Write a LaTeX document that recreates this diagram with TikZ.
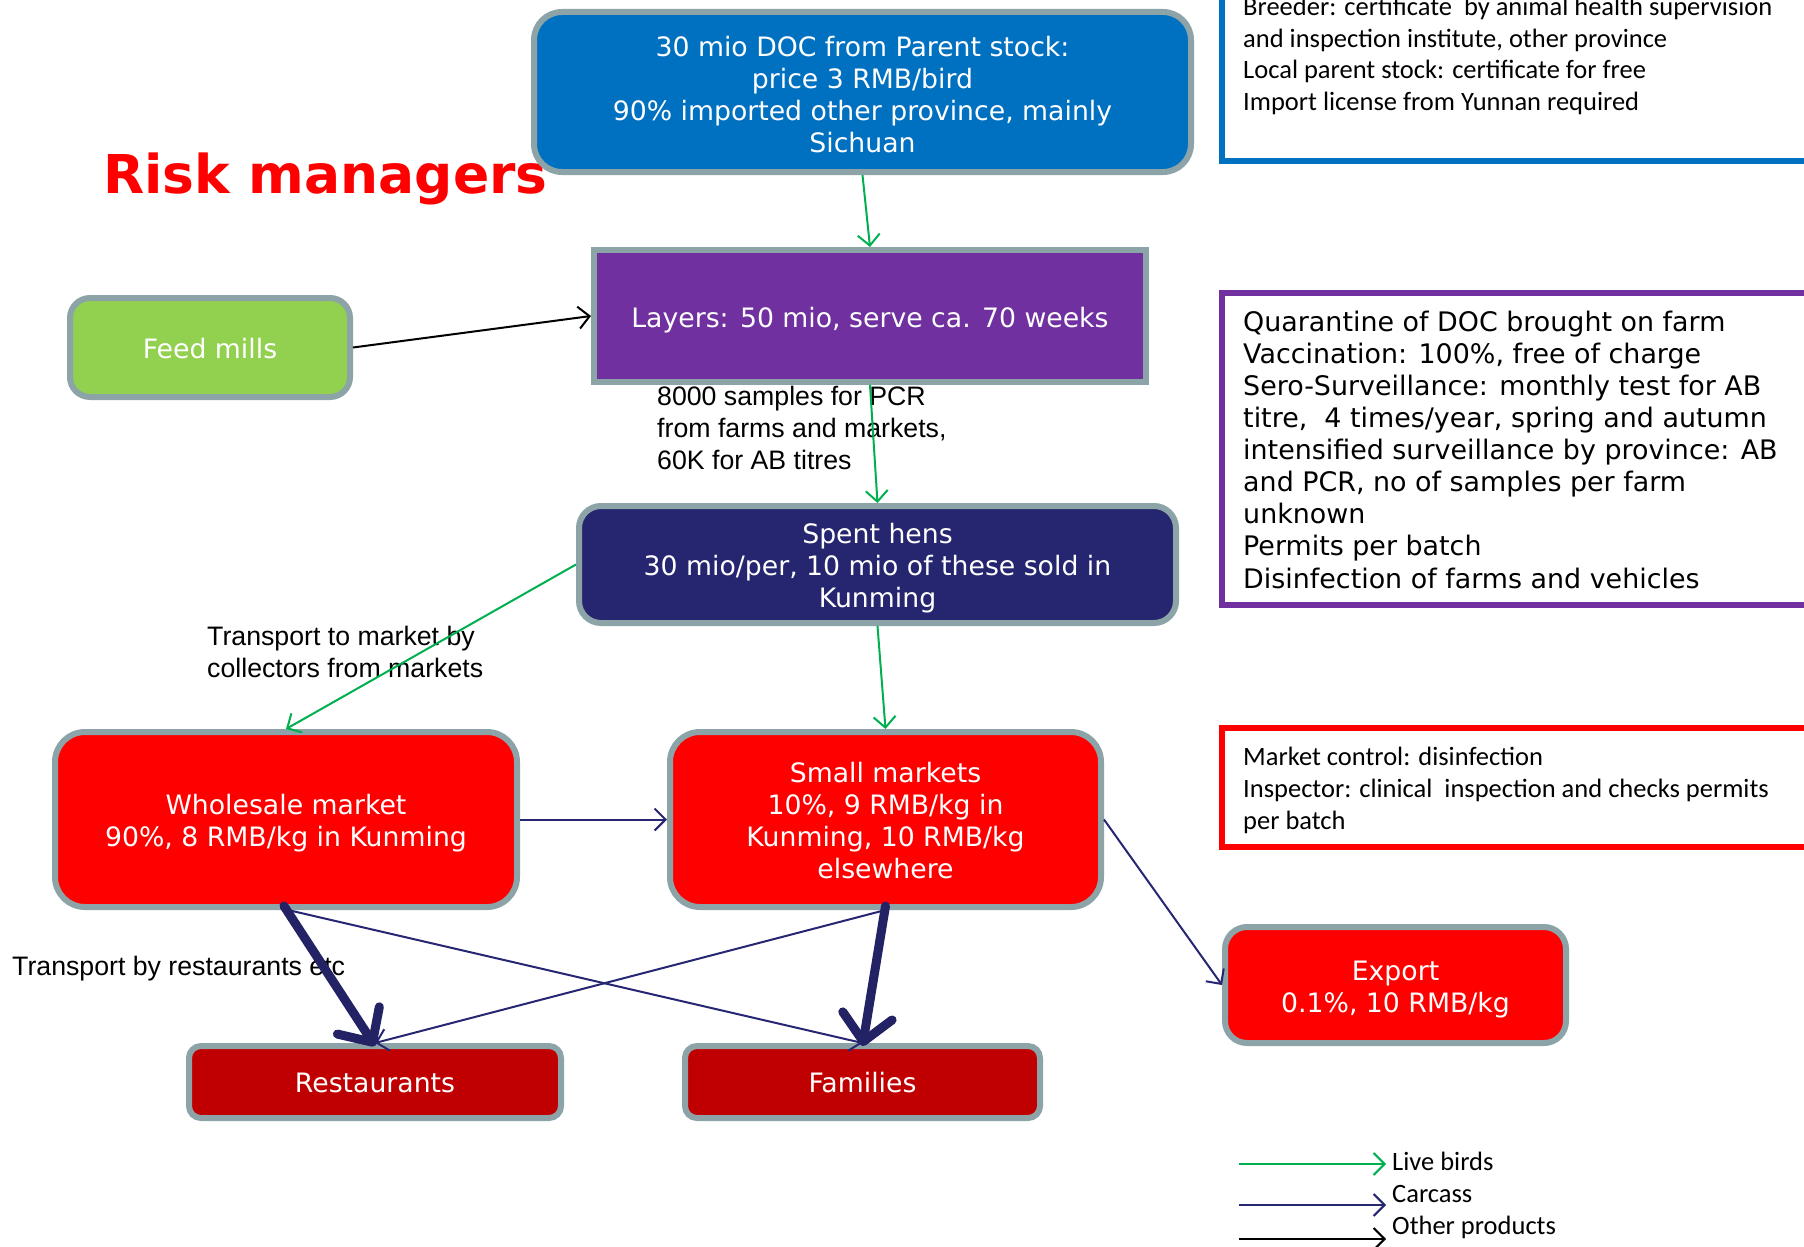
\documentclass[tikz,border=0pt]{standalone}
\usepackage{fontspec}
\setmainfont{DejaVu Sans}
\newfontfamily\calfont{Carlito}
\newfontfamily\arialfont{Liberation Sans}
\usetikzlibrary{arrows.meta}
\definecolor{bordergrey}{RGB}{140,164,167}
\definecolor{boxblue}{RGB}{0,112,192}
\definecolor{boxpurple}{RGB}{112,48,160}
\definecolor{boxgreen}{RGB}{146,208,80}
\definecolor{boxnavy}{RGB}{38,38,112}
\definecolor{boxred}{RGB}{255,0,0}
\definecolor{boxdarkred}{RGB}{192,0,0}
\definecolor{arrowgreen}{RGB}{0,176,80}
\definecolor{arrownavy}{RGB}{38,38,115}
\definecolor{thicknavy}{RGB}{34,34,100}
\newcommand{\lift}[1]{\rule{0pt}{#1}}
\begin{document}
\begin{tikzpicture}[x=1pt,y=-1pt,
  box/.style={draw=bordergrey, line width=6pt, text=white, align=center,
    font=\fontsize{26.7}{32}\selectfont, inner sep=0pt},
  sidebox/.style={line width=6pt, fill=white},
  sidetext/.style={anchor=base west, align=left, inner sep=0pt, text=black},
  label/.style={anchor=base west, align=left, inner sep=0pt, text=black,
    font=\arialfont\fontsize{26.7}{32}\selectfont},
  greenarrow/.style={draw=arrowgreen, line width=2pt, -{Straight Barb[length=11pt,width=22pt]}},
  navyarrow/.style={draw=arrownavy, line width=2pt, -{Straight Barb[length=11pt,width=22pt]}},
  blackarrow/.style={draw=black, line width=2pt, -{Straight Barb[length=11pt,width=22pt]}},
  thickarrow/.style={draw=thicknavy, line width=9pt, line cap=round, line join=round,
    -{Straight Barb[length=26pt,width=50pt,round]}}
]
\useasboundingbox (0,0) rectangle (1804,1247);
\clip (0,0) rectangle (1804,1247);
\fill[white] (0,0) rectangle (1804,1247);

% side boxes (anchor = baseline of last line)
\draw[sidebox, draw=boxblue] (1222,-30) rectangle (1840,161);
\node[sidetext, font=\calfont\fontsize{26.5}{31.7}\selectfont] (bluetext) at (1243,110.5)
 {Breeder: certificate~ by animal health supervision\\
  and inspection institute, other province\\
  Local parent stock: certificate for free\\
  Import license from Yunnan required};

\draw[sidebox, draw=boxpurple] (1222,293) rectangle (1840,605);
\node[sidetext, font=\fontsize{26.9}{32.1}\selectfont] (purpletext) at (1243,588)
 {Quarantine of DOC brought on farm\\
  Vaccination: 100\%, free of charge\\
  Sero-Surveillance: monthly test for AB\\
  titre,~ 4 times/year, spring and autumn\\
  intensified surveillance by province: AB\\
  and PCR, no of samples per farm\\
  unknown\\
  Permits per batch\\
  Disinfection of farms and vehicles};

\draw[sidebox, draw=boxred] (1222,728) rectangle (1840,847);
\node[sidetext, font=\calfont\fontsize{26.5}{32}\selectfont] (redtext) at (1243,829)
 {Market control: disinfection\\
  Inspector: clinical~ inspection and checks permits\\
  per batch};

% title
\node[anchor=base west, inner sep=0pt, text=boxred,
  font=\bfseries\fontsize{53.5}{60}\selectfont] (title) at (103,193) {Risk managers};

% main boxes
\node[box, fill=boxblue, rounded corners=28pt, minimum width=657pt, minimum height=160pt]
  (doc) at (862.5,92) {\lift{25pt}30 mio DOC from Parent stock:\\price 3 RMB/bird\\90\% imported other province, mainly\\Sichuan};
\node[box, fill=boxpurple, minimum width=552pt, minimum height=132pt]
  (layers) at (870,316) {\lift{29pt}Layers: 50 mio, serve ca. 70 weeks};
\node[box, fill=boxgreen, rounded corners=20pt, minimum width=280pt, minimum height=99pt]
  (feed) at (210,347.5) {\lift{22pt}Feed mills};
\node[box, fill=boxnavy, rounded corners=22pt, minimum width=597pt, minimum height=117pt]
  (spent) at (877.5,564.5) {\lift{27pt}Spent hens\\30 mio/per, 10 mio of these sold in\\Kunming};
\node[box, fill=boxred, rounded corners=30pt, minimum width=462pt, minimum height=175pt]
  (wholesale) at (286,819.5) {\lift{27pt}Wholesale market\\90\%, 8 RMB/kg in Kunming};
\node[box, fill=boxred, rounded corners=30pt, minimum width=431pt, minimum height=175pt]
  (small) at (885.5,819.5) {\lift{22pt}Small markets\\10\%, 9 RMB/kg in\\Kunming, 10 RMB/kg\\elsewhere};
\node[box, fill=boxred, rounded corners=22pt, minimum width=341pt, minimum height=116pt]
  (export) at (1395.5,985) {\lift{29pt}Export\\0.1\%, 10 RMB/kg};
\node[box, fill=boxdarkred, rounded corners=12pt, minimum width=372pt, minimum height=72pt]
  (rest) at (375,1082) {\lift{22pt}Restaurants};
\node[box, fill=boxdarkred, rounded corners=12pt, minimum width=355pt, minimum height=72pt]
  (fam) at (862.5,1082) {\lift{22pt}Families};

% labels (anchor = baseline of last line)
\node[label] (pcrlabel) at (657,469) {8000 samples for PCR\\from farms and markets,\\60K for AB titres};
\node[label] (translabel) at (207,677.5) {Transport to market by\\collectors from markets};
\node[label] (restlabel) at (12,975) {Transport by restaurants etc};

% connectors
\draw[greenarrow] (doc.south) -- (layers.north);
\draw[blackarrow] (feed.east) -- (layers.west);
\draw[greenarrow] (layers.south) -- (spent.north);
\draw[greenarrow] (spent.west) -- (wholesale.north);
\draw[greenarrow] (spent.south) -- (small.north);
\draw[navyarrow] (wholesale.east) -- (small.west);
\draw[navyarrow] (small.east) -- (export.west);
\draw[navyarrow] ([xshift=2pt]wholesale.south) -- (fam.north);
\draw[navyarrow] (small.south) -- (rest.north);
\draw[thickarrow] ([xshift=-2pt,yshift=4pt]wholesale.south) -- ([yshift=-3pt]rest.north);
\draw[thickarrow] ([yshift=4pt]small.south) -- ([yshift=-3pt]fam.north);

% legend
\coordinate (lg1a) at (1239,1164); \coordinate (lg1b) at (1386,1164);
\coordinate (lg2a) at (1239,1205); \coordinate (lg2b) at (1386,1205);
\coordinate (lg3a) at (1239,1239); \coordinate (lg3b) at (1386,1239);
\draw[greenarrow] (lg1a) -- (lg1b);
\draw[navyarrow] (lg2a) -- (lg2b);
\draw[blackarrow] (lg3a) -- (lg3b);
\node[sidetext, font=\calfont\fontsize{26.5}{32}\selectfont] (lgt1) at (1392,1170) {Live birds};
\node[sidetext, font=\calfont\fontsize{26.5}{32}\selectfont] (lgt2) at (1392,1202) {Carcass};
\node[sidetext, font=\calfont\fontsize{26.5}{32}\selectfont] (lgt3) at (1392,1234) {Other products};
\end{tikzpicture}
\end{document}
